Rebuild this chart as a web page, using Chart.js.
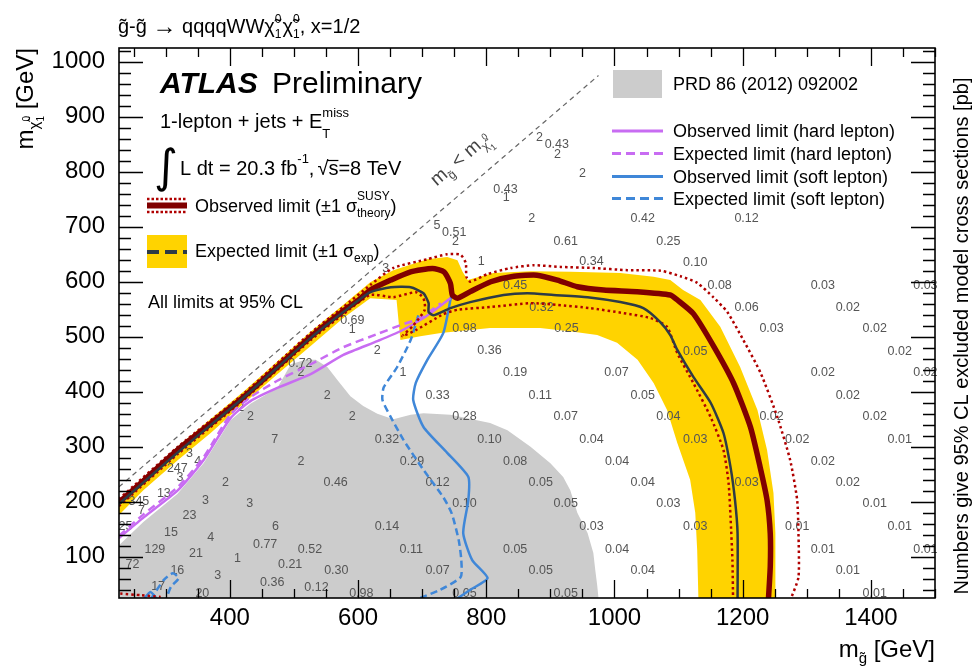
<!DOCTYPE html>
<html lang="en">
<head>
<meta charset="UTF-8">
<title>gluino exclusion</title>
<script src="https://cdn.jsdelivr.net/npm/chart.js"></script>
<style>
  body { background: #fff; margin: 0; padding: 0; }
  #wrap { width: 975px; height: 668px; }
</style>
</head>
<body>
<div id="wrap"><canvas id="plot" width="975" height="668"></canvas></div>
<script>
// axis ticks
const xTickVals = [400, 600, 800, 1000, 1200, 1400];
const yTickVals = [100, 200, 300, 400, 500, 600, 700, 800, 900, 1000];

// PRD 86 (2012) 092002 excluded area
const grayX = [227,265,318,359,401,432,474,495,518,534,552,568,588,608,630,655,682,702,744,806,833,869,900,920,931,942,958,967,970,973,975,227];
const grayY = [121,163,214,270,348,378,407,450,458,458,445,421,392,374,360,350,358,361,358,343,330,300,270,245,221,180,143,107,76,48,25,25];

// expected +-1 sigma band
const bandX = [227,319,421,526,577,619,655,708,739,755,763,771,811,869,931,1009,1061,1087,1107,1134,1165,1196,1223,1238,1248,1251,1251,
               1131,1129,1126,1118,1098,1082,1061,1036,1004,973,936,884,806,729,697,666,663,660,619,577,526,474,421,370,319,265,227];
const bandY = [204,301,400,509,558,599,621,641,645,639,618,603,616,619,618,616,609,603,585,567,518,445,367,294,216,143,20,
               20,112,180,240,307,367,416,458,489,503,509,516,516,507,501,494,530,567,570,534,483,432,378,325,276,221,176];

// observed limit and +-1 sigma theory
const obsX = [227,266,318,370,422,474,526,578,601,619,651,682,716,734,744,747,755,775,807,843,879,911,942,983,1035,1087,1098,1123,1155,1186,1212,1227,1238,1243,1243,1240];
const obsY = [199,239,294,342,391,445,500,548,567,585,603,618,624,618,597,576,570,582,600,610,612,603,591,585,582,576,567,542,482,415,336,264,203,142,82,20];
const obsUpX = [227,319,421,526,577,619,655,708,739,760,768,769,775,802,838,874,916,967,1020,1072,1103,1129,1154,1176,1201,1228,1254,1274,1285,1287,1287,1274];
const obsUpY = [205,300,396,507,554,594,625,641,650,649,634,609,600,614,625,630,627,625,621,620,610,598,572,545,494,434,354,276,203,143,63,20];
const obsDnX = [227,319,421,526,577,619,655,690,702,704,685,669,690,733,755,806,869,911,962,1014,1056,1082,1098,1123,1150,1170,1178,1181,1184,1185];
const obsDnY = [192,287,385,494,541,576,572,581,570,549,519,501,512,541,549,554,561,558,552,543,534,518,470,416,354,294,234,172,94,20];
const stubX = [229,262,292];
const stubY = [33,30,27];

// expected limit
const expX = [227,319,421,526,577,619,651,682,702,710,710,718,744,775,827,864,905,958,1009,1045,1071,1087,1098,1123,1150,1170,1181,1188,1192,1192];
const expY = [196,290,389,498,545,581,590,590,579,561,545,539,552,563,576,579,576,572,563,552,527,503,476,427,380,325,263,203,143,20];

// hard lepton limits
const hardObsX = [227,266,319,359,401,432,474,526,577,630,666,702,744];
const hardObsY = [134,172,221,276,352,383,407,432,467,492,510,534,570];
const hardExpX = [227,266,319,359,401,432,474,526,577,630,666,697,729];
const hardExpY = [138,178,227,281,359,390,420,450,481,505,521,534,561];

// soft lepton limits
const softObsX = [747,744,733,708,690,686,702,739,772,772,764,778,802,775,752];
const softObsY = [581,567,507,458,416,385,336,289,245,203,143,94,61,40,22];
const softExpX = [694,682,661,640,638,651,671,702,733,746,757,761,760,728,697];
const softExpY = [539,494,445,408,385,354,312,258,208,179,130,94,63,40,25];
const softExpLoopX = [276,297,311,320,308,300];
const softExpLoopY = [22,58,70,61,45,22];
const softObsLoopX = [265,276,287];
const softObsLoopY = [22,36,22];

// kinematic limit
const diagX = [227, 975];
const diagY = [227, 975];

// excluded cross sections [pb]
const numX = [591,591,630,510,511,552,417,432,591,470,645,337,350,318,511,322,393,565,297,362,431,258,262,337,471,645,237,308,370,455,525,283,347,412,248,494,318,381,566,466,288,535,357,605,
  886,766,925,805,670,845,1003,724,884,1044,766,924,1084,805,964,684,845,1004,724,885,1044,766,924,1084,964,683,845,1004,724,885,1044,766,924,
  1206,1364,1245,1406,1126,1445,1325,1485,1364,1245,1406,1126,1285,1445,1325,1206,1364,1406,1126,1285,1445,1325,1485,1364,1406,
  1044,1206,1084,1126,1164,1325,1485,883,910,911,950,830,831,871,723,750,752,924,643,792,964,845];
const numY = [529,513,475,452,435,393,372,355,355,313,313,288,274,261,274,244,235,235,215,203,197,201,184,175,155,155,155,144,135,123,114,114,106,96,86,86,75,65,75,53,45,44,33,33,
  554,515,515,475,435,435,435,394,394,394,355,355,355,313,313,274,274,274,235,235,235,197,197,197,155,114,114,114,75,75,75,33,33,
  553,553,515,515,473,473,435,435,394,355,355,313,313,313,274,235,235,197,155,155,155,114,114,75,33,
  715,715,673,635,594,594,594,862,849,832,796,768,753,715,702,690,673,673,624,636,636,593];
const numTxt = ['0.69','1','2','0.72','2','2','2','2','2','7','0.32','3','4','247','2','3','2','0.46','13','3','3','345','7','23','6','0.14','25','15','4','0.77','0.52','129','21','1','72','0.21','16','3','0.30','0.36','17','0.12','20','0.98',
  '0.32','0.98','0.25','0.36','1','0.19','0.07','0.33','0.11','0.05','0.28','0.07','0.04','0.10','0.04','0.29','0.08','0.04','0.12','0.05','0.04','0.10','0.05','0.03','0.03','0.11','0.05','0.04','0.07','0.05','0.04','0.05','0.05',
  '0.06','0.02','0.03','0.02','0.05','0.02','0.02','0.02','0.02','0.02','0.02','0.03','0.02','0.01','0.02','0.03','0.02','0.01','0.03','0.01','0.01','0.01','0.01','0.01','0.01',
  '0.42','0.12','0.25','0.10','0.08','0.03','0.03','2','0.43','2','2','0.43','1','2','5','0.51','2','0.61','3','1','0.34','0.45'];

const F = '"Liberation Sans", Arial, Helvetica, sans-serif';
const DARKRED = '#800000', DOTRED = '#b00000', SLATE = '#2e3b46';
const PURPLE = '#c86cf2', BLUE = '#3f87d8', YELLOW = '#ffd300', GRAY = '#cccccc';

function pts(xs, ys) { return xs.map((x, i) => ({ x: x, y: ys[i] })); }

function lineSet(xs, ys, color, width, dash, order) {
  return { data: pts(xs, ys), showLine: true, fill: false, borderColor: color, borderWidth: width,
           borderDash: dash, pointRadius: 0, tension: 0.2, order: order };
}
function areaSet(xs, ys, color, order) {
  return { data: pts(xs, ys), showLine: true, fill: 'shape', backgroundColor: color, borderWidth: 0,
           pointRadius: 0, tension: 0, order: order };
}

// draw text made of pieces: [text, size, dy, noAdvance, style]
function rich(ctx, x, y, segs, align) {
  let w = 0;
  segs.forEach(s => { ctx.font = (s[4] || '') + s[1] + 'px ' + F; if (!s[3]) w += ctx.measureText(s[0]).width; });
  let cx = align === 'right' ? x - w : x;
  ctx.textAlign = 'left';
  ctx.textBaseline = 'alphabetic';
  segs.forEach(s => {
    ctx.font = (s[4] || '') + s[1] + 'px ' + F;
    ctx.fillText(s[0], cx, y + s[2]);
    if (!s[3]) cx += ctx.measureText(s[0]).width;
  });
}

const numbersPlugin = {
  id: 'numbers',
  afterDatasetDraw(chart, args) {
    if (args.index !== 1) return;
    const { ctx, scales: { x, y } } = chart;
    ctx.save();
    ctx.font = '12.5px ' + F;
    ctx.fillStyle = '#555';
    ctx.textAlign = 'center';
    ctx.textBaseline = 'middle';
    numTxt.forEach((t, i) => ctx.fillText(t, x.getPixelForValue(numX[i]), y.getPixelForValue(numY[i])));
    ctx.restore();
  }
};

// ROOT style frame with ticks on the inside of all four sides
const framePlugin = {
  id: 'frame',
  afterDatasetsDraw(chart) {
    const { ctx, chartArea: a, scales: { x, y } } = chart;
    ctx.save();
    ctx.strokeStyle = '#000';
    ctx.lineWidth = 1.3;
    ctx.beginPath();
    for (let v = 250; v <= 1500; v += 50) {
      const px = Math.round(x.getPixelForValue(v)) + 0.5;
      const len = (v % 200 === 0) ? 18 : 9;
      ctx.moveTo(px, a.bottom); ctx.lineTo(px, a.bottom - len);
      ctx.moveTo(px, a.top); ctx.lineTo(px, a.top + len);
    }
    for (let v = 40; v <= 1020; v += 20) {
      const py = Math.round(y.getPixelForValue(v)) + 0.5;
      const len = (v % 100 === 0) ? 24 : 12;
      ctx.moveTo(a.left, py); ctx.lineTo(a.left + len, py);
      ctx.moveTo(a.right, py); ctx.lineTo(a.right - len, py);
    }
    ctx.stroke();
    ctx.lineWidth = 1.6;
    ctx.strokeRect(a.left, a.top, a.right - a.left, a.bottom - a.top);

    // kinematic limit label along the diagonal
    const ang = Math.atan2(y.getPixelForValue(900) - y.getPixelForValue(700), x.getPixelForValue(900) - x.getPixelForValue(700));
    ctx.translate(x.getPixelForValue(744), y.getPixelForValue(744));
    ctx.rotate(ang);
    ctx.fillStyle = '#444';
    rich(ctx, 0, -21, [['m', 19, 0], ['g̃', 12, 5], [' < m', 19, 0], ['χ̃', 12, 5], ['0', 9, -4, true], ['1', 9, 10]]);
    ctx.restore();
  }
};

const textPlugin = {
  id: 'texts',
  afterDraw(chart) {
    const ctx = chart.ctx;
    ctx.save();
    ctx.fillStyle = '#000';
    // title
    rich(ctx, 118, 33, [['g̃-g̃ ', 20, 0], ['→', 24, 1], [' qqqqWW', 20, 0], ['χ̃', 20, 0], ['0', 12, -10, true], ['1', 12, 5], [' ', 4, 0], ['χ̃', 20, 0], ['0', 12, -10, true], ['1', 12, 5], [', x=1/2', 20, 0]]);
    // axis titles
    rich(ctx, 935, 657, [['m', 24, 0], ['g̃', 15, 6], [' [GeV]', 24, 0]], 'right');
    ctx.save();
    ctx.translate(33, 48);
    ctx.rotate(-Math.PI / 2);
    rich(ctx, 0, 0, [['m', 24, 0], ['χ̃', 15, 6], ['0', 10, -3, true], ['1', 10, 11], [' [GeV]', 24, 0]], 'right');
    ctx.restore();
    ctx.save();
    ctx.translate(968, 336);
    ctx.rotate(-Math.PI / 2);
    ctx.font = '20px ' + F;
    ctx.textAlign = 'center';
    ctx.fillText('Numbers give 95% CL excluded model cross sections [pb]', 0, 0);
    ctx.restore();

    // ATLAS label
    ctx.font = 'italic bold 30px ' + F;
    ctx.textAlign = 'left';
    ctx.fillText('ATLAS', 160, 93);
    ctx.font = '30px ' + F;
    ctx.fillText('Preliminary', 272, 93);
    rich(ctx, 160, 128, [['1-lepton + jets + E', 20, 0], ['miss', 13, -11, true], ['T', 13, 10]]);
    ctx.font = '46px "DejaVu Sans"';
    ctx.fillText('∫', 154, 182);
    rich(ctx, 180, 175, [['L dt = 20.3 fb', 20, 0], ['-1', 13, -12], [', ', 20, 0]]);
    ctx.font = '20px ' + F;
    let sx = 180 + ctx.measureText('L dt = 20.3 fb, ').width + 9;
    ctx.fillText('√s=8 TeV', sx, 175);
    const sw0 = ctx.measureText('√').width, sw1 = ctx.measureText('√s').width;
    ctx.lineWidth = 1.2;
    ctx.beginPath(); ctx.moveTo(sx + sw0 - 1, 160.5); ctx.lineTo(sx + sw1, 160.5); ctx.stroke();

    // left legend
    ctx.lineWidth = 2.5;
    ctx.strokeStyle = DOTRED;
    ctx.setLineDash([2.5, 2]);
    ctx.beginPath(); ctx.moveTo(147, 199); ctx.lineTo(187, 199); ctx.moveTo(147, 212); ctx.lineTo(187, 212); ctx.stroke();
    ctx.setLineDash([]);
    ctx.lineWidth = 6;
    ctx.strokeStyle = DARKRED;
    ctx.beginPath(); ctx.moveTo(147, 205.5); ctx.lineTo(187, 205.5); ctx.stroke();
    ctx.fillStyle = YELLOW;
    ctx.fillRect(147, 235, 40, 33);
    ctx.strokeStyle = SLATE;
    ctx.lineWidth = 4;
    ctx.setLineDash([12, 6]);
    ctx.beginPath(); ctx.moveTo(147, 252); ctx.lineTo(187, 252); ctx.stroke();
    ctx.setLineDash([]);
    ctx.fillStyle = '#000';
    rich(ctx, 195, 212, [['Observed limit (±1 σ', 18, 0], ['SUSY', 12, -12, true], ['theory', 12, 5], [')', 18, 0]]);
    rich(ctx, 195, 257, [['Expected limit (±1 σ', 18, 0], ['exp', 12, 5], [')', 18, 0]]);
    ctx.font = '18px ' + F;
    ctx.fillText('All limits at 95% CL', 148, 308);

    // right legend
    ctx.fillStyle = GRAY;
    ctx.fillRect(613, 70, 49, 28);
    ctx.fillStyle = '#000';
    ctx.fillText('PRD 86 (2012) 092002', 673, 90);
    const rows = [[PURPLE, [], 'Observed limit (hard lepton)', 131], [PURPLE, [9, 5], 'Expected limit (hard lepton)', 153.5],
                  [BLUE, [], 'Observed limit (soft lepton)', 176.5], [BLUE, [9, 5], 'Expected limit (soft lepton)', 198.5]];
    rows.forEach(r => {
      ctx.strokeStyle = r[0];
      ctx.lineWidth = 3;
      ctx.setLineDash(r[1]);
      ctx.beginPath(); ctx.moveTo(612, r[3]); ctx.lineTo(663, r[3]); ctx.stroke();
      ctx.setLineDash([]);
      ctx.fillStyle = '#000';
      ctx.fillText(r[2], 673, r[3] + 6);
    });
    ctx.restore();
  }
};

new Chart(document.getElementById('plot').getContext('2d'), {
  type: 'scatter',
  data: {
    datasets: [
      areaSet(grayX, grayY, GRAY, 20),
      areaSet(bandX, bandY, YELLOW, 19),
      lineSet(diagX, diagY, '#666', 1.2, [5, 4], 15),
      lineSet(softExpX, softExpY, BLUE, 2.5, [7, 4], 12),
      lineSet(softObsX, softObsY, BLUE, 2.5, [], 11),
      lineSet(softExpLoopX, softExpLoopY, BLUE, 2.5, [7, 4], 12),
      lineSet(softObsLoopX, softObsLoopY, BLUE, 2.5, [], 11),
      lineSet(hardExpX, hardExpY, PURPLE, 2.5, [8, 5], 10),
      lineSet(hardObsX, hardObsY, PURPLE, 2.5, [], 9),
      lineSet(obsUpX, obsUpY, DOTRED, 2.5, [2.5, 3], 6),
      lineSet(obsDnX, obsDnY, DOTRED, 2.5, [2.5, 3], 5),
      lineSet(stubX, stubY, DOTRED, 2.5, [2.5, 3], 5),
      lineSet(obsX, obsY, DARKRED, 5.5, [], 3),
      lineSet(expX, expY, SLATE, 2.5, [], 2)
    ]
  },
  options: {
    responsive: false,
    animation: false,
    devicePixelRatio: 1,
    layout: { padding: { left: 0, top: 48, right: 40, bottom: 0 } },
    plugins: { legend: { display: false }, tooltip: { enabled: false } },
    scales: {
      x: {
        type: 'linear', min: 227, max: 1500,
        grid: { display: false, drawTicks: false },
        border: { display: false },
        afterBuildTicks: s => { s.ticks = xTickVals.map(v => ({ value: v })); },
        afterFit: s => { s.height = 70; },
        ticks: { autoSkip: false, maxRotation: 0, padding: 6, color: '#000', font: { family: F, size: 24 },
                 callback: v => String(v) }
      },
      y: {
        type: 'linear', min: 25, max: 1025,
        grid: { display: false, drawTicks: false },
        border: { display: false },
        afterBuildTicks: s => { s.ticks = yTickVals.map(v => ({ value: v })); },
        afterFit: s => { s.width = 119; },
        ticks: { autoSkip: false, padding: 14, color: '#000', font: { family: F, size: 24 },
                 callback: v => String(v) }
      }
    }
  },
  plugins: [numbersPlugin, framePlugin, textPlugin]
});
</script>
</body>
</html>
